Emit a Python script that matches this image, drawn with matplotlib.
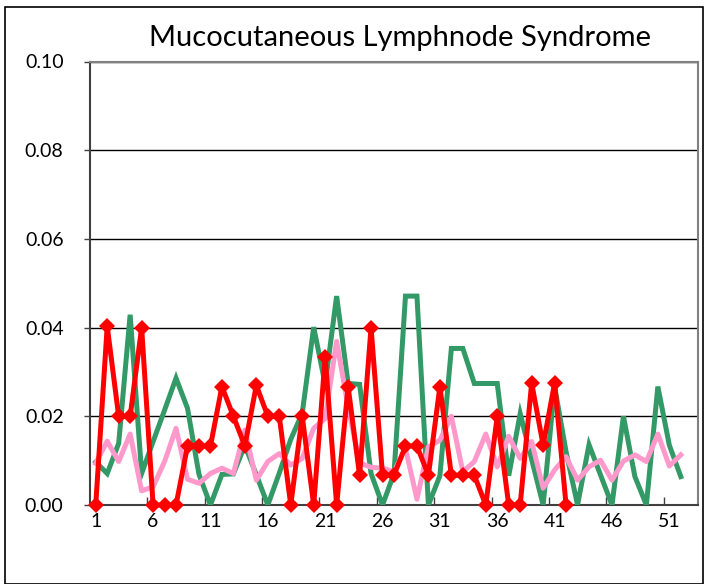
import matplotlib
matplotlib.use("Agg")
import matplotlib.pyplot as plt
from matplotlib.patches import Rectangle

# ---------- data ----------

title = "Mucocutaneous Lymphnode Syndrome"

weeks = list(range(1, 54))
tick_labels = [1, 6, 11, 16, 21, 26, 31, 36, 41, 46, 51]

# red series with diamond markers (42 weeks)
red_vals = [
    0.0, 0.0403, 0.020, 0.020, 0.040, 0.0, 0.0, 0.0, 0.0133, 0.0133,
    0.0133, 0.0267, 0.020, 0.0133, 0.027, 0.020, 0.020, 0.0, 0.020, 0.0,
    0.0333, 0.0, 0.0267, 0.0067, 0.040, 0.0067, 0.0067, 0.0133, 0.0133, 0.0067,
    0.0267, 0.0067, 0.0067, 0.0067, 0.0, 0.020, 0.0, 0.0, 0.0275, 0.0135,
    0.0275, 0.0,
]

# green series (52 weeks)
green_vals = [
    0.0097, 0.0071, 0.0139, 0.0429, 0.0071, 0.0143, 0.0214, 0.0286, 0.0218, 0.0069,
    0.0, 0.0069, 0.0070, 0.0135, 0.0068, 0.0, 0.0072, 0.0148, 0.0207, 0.0401,
    0.0272, 0.0471, 0.0274, 0.0272, 0.0071, 0.0, 0.0071, 0.0471, 0.0471, 0.0,
    0.0066, 0.0353, 0.0353, 0.0274, 0.0274, 0.0274, 0.0066, 0.0206, 0.0103, 0.0,
    0.0267, 0.0120, 0.0, 0.0136, 0.0068, 0.0, 0.0200, 0.0064, 0.0, 0.0267,
    0.0135, 0.0064,
]

# pink series (52 weeks)
pink_vals = [
    0.0094, 0.0144, 0.0098, 0.0160, 0.0032, 0.0041, 0.0098, 0.0173, 0.0058, 0.0049,
    0.0071, 0.0083, 0.0071, 0.0169, 0.0056, 0.0098, 0.0116, 0.0090, 0.0105, 0.0173,
    0.0195, 0.0369, 0.0221, 0.0095, 0.0085, 0.0083, 0.0075, 0.0128, 0.0013, 0.0131,
    0.0146, 0.0200, 0.0075, 0.0098, 0.0160, 0.0086, 0.0155, 0.0105, 0.0143, 0.0038,
    0.0079, 0.0109, 0.0056, 0.0086, 0.0101, 0.0056, 0.0099, 0.0113, 0.0098, 0.0160,
    0.0088, 0.0113,
]

y_ticks = [0.0, 0.02, 0.04, 0.06, 0.08, 0.10]

# ---------- plot ----------

plt.rcParams["font.family"] = ["Lato", "DejaVu Sans"]

W, H = 704, 584
fig = plt.figure(figsize=(W / 100, H / 100), dpi=100)
fig.patch.set_facecolor("white")

# outer chart border
fig.patches.append(Rectangle((5 / W, 0), (W - 6) / W, 1 - 7 / H,
                             transform=fig.transFigure, fill=False,
                             edgecolor="black", linewidth=1.2))

ax = fig.add_axes([90 / W, 1 - 505 / H, (698 - 90) / W, (505 - 61.5) / H])

ax.plot(weeks[:len(green_vals)], green_vals, color="#339966", linewidth=3.6,
        solid_joinstyle="miter", zorder=3)
ax.plot(weeks[:len(pink_vals)], pink_vals, color="#FF99CC", linewidth=3.6,
        zorder=4)
ax.plot(weeks[:len(red_vals)], red_vals, color="#FF0000", linewidth=3.6,
        marker="D", markersize=8.5, markeredgewidth=0, zorder=5, clip_on=False)

ax.set_xlim(0.5, 53.5)
ax.set_ylim(0, 0.10)

ax.set_yticks(y_ticks)
ax.set_yticklabels([f"{v:.2f}" for v in y_ticks])
ax.yaxis.grid(True, color="black", linewidth=1.0)
ax.set_axisbelow(True)
ax.tick_params(axis="y", direction="out", length=4, width=1, color="#404040",
               pad=15, labelsize=14, labelcolor="black")

# labels on the categories, tick marks between them
ax.set_xticks(tick_labels)
ax.set_xticklabels([str(t) for t in tick_labels])
ax.set_xticks([t - 0.5 for t in tick_labels[1:]], minor=True)
ax.tick_params(axis="x", which="major", length=0, pad=6, labelsize=14,
               labelcolor="black")
ax.tick_params(axis="x", which="minor", direction="in", length=6, width=1,
               color="#404040")

for side in ("top", "right"):
    ax.spines[side].set_color("#808080")
    ax.spines[side].set_linewidth(1.5)
for side in ("left", "bottom"):
    ax.spines[side].set_color("#404040")
    ax.spines[side].set_linewidth(1.5)

fig.text(400 / W, 1 - 38 / H, title, ha="center", va="center", fontsize=21,
         color="black")

fig.savefig("out.png", dpi=100)
